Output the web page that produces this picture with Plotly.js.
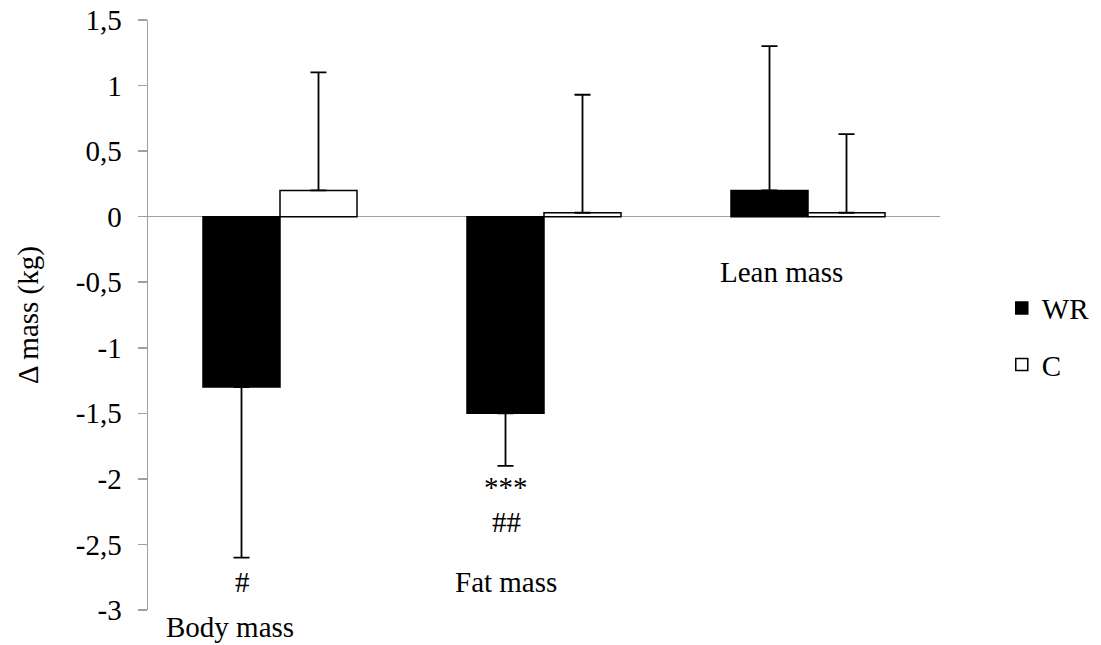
<!DOCTYPE html>
<html>
<head>
<meta charset="utf-8">
<script src="https://cdn.plot.ly/plotly-3.0.1.min.js"></script>
<style>
  html, body { margin: 0; padding: 0; background: #ffffff; }
  #chart { width: 1101px; height: 645px; }
</style>
</head>
<body>
<div id="chart"></div>
<script>
// Change in mass (kg) after the intervention, by compartment
const categories = ["Body mass", "Fat mass", "Lean mass"];
const groupNames = ["WR", "C"];

const wrMean = [-1.3, -1.5, 0.2];
const wrErrUp = [0, 0, 1.1];
const wrErrDown = [1.3, 0.4, 0];

const cMean = [0.2, 0.03, 0.03];
const cErrUp = [0.9, 0.9, 0.6];
const cErrDown = [0, 0, 0];

const yTickVals = [-3, -2.5, -2, -1.5, -1, -0.5, 0, 0.5, 1, 1.5];
const yTickText = ["-3", "-2,5", "-2", "-1,5", "-1", "-0,5", "0", "0,5", "1", "1,5"];

// Significance marks drawn under the WR bars
const sigText = ["#", "***", "##"];
const sigCategory = [0, 1, 1];
const sigValue = [-2.79, -2.06, -2.33];

// Category names placed beside each group
const labelValue = [-3.13, -2.79, -0.42];

const FONT = "'Liberation Serif', 'Times New Roman', 'DejaVu Serif', serif";
const AXIS_GREY = "#a0a0a0";

const traces = [
  {
    type: "bar",
    name: groupNames[0],
    legendgroup: "g1",
    x: categories,
    y: wrMean,
    marker: { color: "#000000", line: { color: "#000000", width: 1.5 } },
    error_y: {
      type: "data", symmetric: false,
      array: wrErrUp, arrayminus: wrErrDown,
      color: "#000000", thickness: 1.8, width: 8
    },
    hoverinfo: "x+y"
  },
  {
    type: "bar",
    name: groupNames[1],
    legendgroup: "g2",
    x: categories,
    y: cMean,
    marker: { color: "#ffffff", line: { color: "#000000", width: 1.5 } },
    error_y: {
      type: "data", symmetric: false,
      array: cErrUp, arrayminus: cErrDown,
      color: "#000000", thickness: 1.8, width: 8
    },
    hoverinfo: "x+y"
  }
];

const annotations = [];
// category labels
const labelShift = [-50, -38, -27];
categories.forEach((name, i) => {
  const ann = {
    text: name, showarrow: false, xref: "x", yref: "y",
    x: i, y: labelValue[i], xanchor: "center", yanchor: "middle",
    xshift: labelShift[i],
    font: { family: FONT, size: 29, color: "#000000" }
  };
  if (labelValue[i] < -3) {
    // below the bottom of the axis: anchor to the plot edge
    ann.yref = "paper"; ann.y = 0; ann.yshift = (labelValue[i] + 3) * 131;
  }
  annotations.push(ann);
});
sigText.forEach((t, i) => {
  annotations.push({
    text: t, showarrow: false, xref: "x", yref: "y",
    x: sigCategory[i], y: sigValue[i], xanchor: "center", yanchor: "middle",
    xshift: -38,
    font: { family: FONT, size: 29, color: "#000000" }
  });
});

const layout = {
  width: 1101,
  height: 645,
  margin: { l: 148, r: 161, t: 20, b: 35, autoexpand: false },
  paper_bgcolor: "#ffffff",
  plot_bgcolor: "#ffffff",
  font: { family: FONT, size: 29, color: "#000000" },
  barmode: "group",
  bargap: 0.4167,
  bargroupgap: 0,
  showlegend: true,
  legend: {
    x: 1.078, xanchor: "left",
    y: 0.555, yanchor: "top",
    traceorder: "grouped",
    tracegroupgap: 16,
    font: { family: FONT, size: 29, color: "#000000" },
    bgcolor: "rgba(0,0,0,0)"
  },
  xaxis: {
    type: "category",
    showticklabels: false,
    showline: false,
    showgrid: false,
    zeroline: false,
    ticks: "",
    fixedrange: true
  },
  yaxis: {
    range: [-3, 1.5],
    tickmode: "array",
    tickvals: yTickVals,
    ticktext: yTickText,
    ticks: "outside",
    ticklen: 9,
    tickwidth: 1.5,
    tickcolor: AXIS_GREY,
    ticklabelstandoff: 10,
    tickfont: { family: FONT, size: 29, color: "#000000" },
    showline: true,
    linecolor: AXIS_GREY,
    linewidth: 1.5,
    showgrid: false,
    zeroline: true,
    zerolinecolor: AXIS_GREY,
    zerolinewidth: 1.5,
    title: {
      text: "Δ mass (kg)",
      font: { family: FONT, size: 29, color: "#000000" },
      standoff: 28
    },
    automargin: false,
    fixedrange: true
  },
  annotations: annotations
};

Plotly.newPlot("chart", traces, layout, { displayModeBar: false, staticPlot: true });
</script>
</body>
</html>
